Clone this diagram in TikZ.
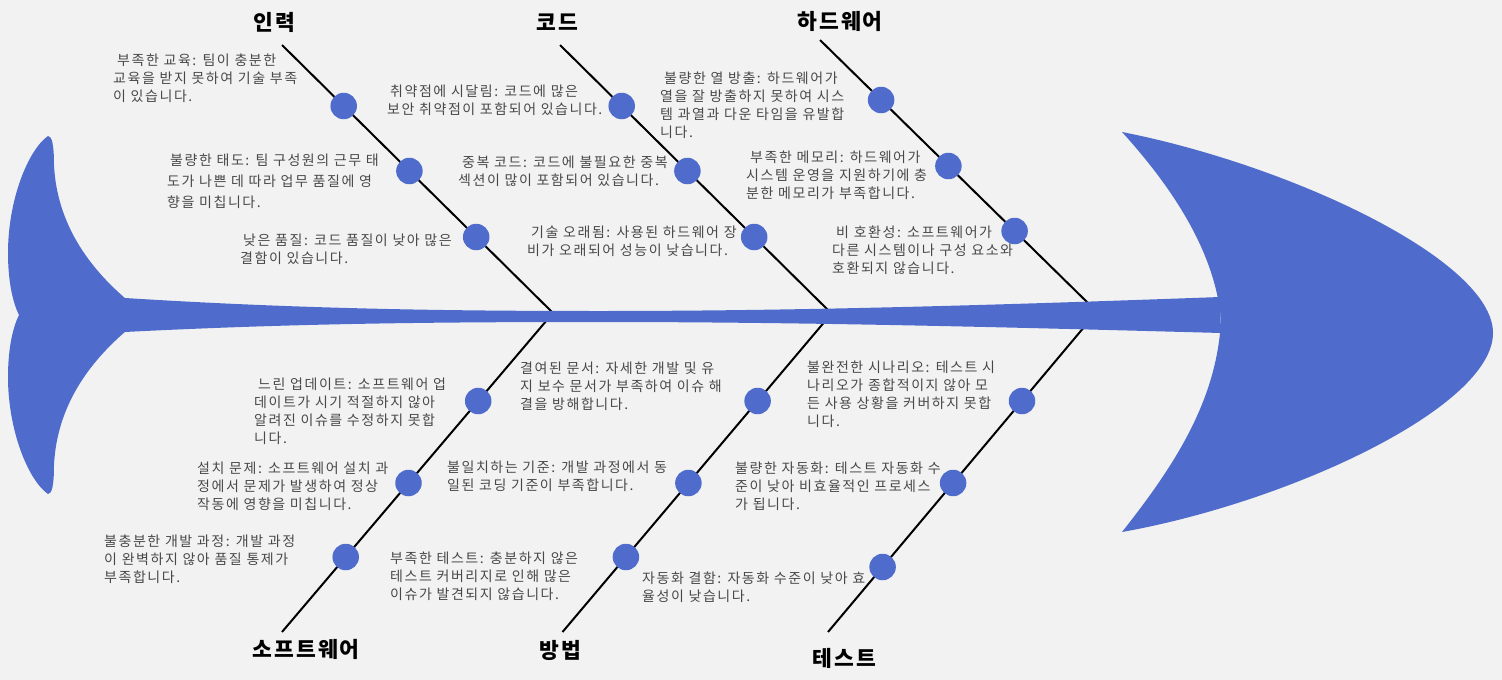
\documentclass[tikz,border=0pt]{standalone}
\usepackage{fontspec}
\newfontfamily\kr[LetterSpace=10]{Noto Sans CJK KR}
\newfontfamily\krt[LetterSpace=11]{Noto Sans CJK KR}
\definecolor{fishblue}{RGB}{79,108,204}
\definecolor{bgc}{RGB}{242,242,242}
\definecolor{txt}{RGB}{72,72,72}
\tikzset{
  bone/.style={line width=2pt, draw=black},
  dot/.style={circle, fill=fishblue, minimum size=26.5pt, inner sep=0pt},
  desc/.style={inner sep=0pt, anchor=north west, align=left, text=txt, font=\krt\fontsize{14}{18}\selectfont},
  descwide/.style={desc, font=\krt\fontsize{14}{21}\selectfont},
  cat/.style={inner sep=0pt, text=black, font=\kr\bfseries\fontsize{21.5}{24}\selectfont},
  fishpart/.style={fill=fishblue, draw=none}
}
\begin{document}
\begin{tikzpicture}[x=1pt,y=-1pt]
\fill[bgc] (0,0) rectangle (1502,680);
\useasboundingbox (0,0) rectangle (1502,680);

% bone end points
\coordinate (t1) at (282,45);   \coordinate (e1) at (552,312);
\coordinate (t2) at (560,45);   \coordinate (e2) at (830,312);
\coordinate (t3) at (820,40);   \coordinate (e3) at (1089,304);
\coordinate (b1) at (282,632);  \coordinate (f1) at (547,320);
\coordinate (b2) at (562.5,632);\coordinate (f2) at (825.2,321);
\coordinate (b3) at (828,632);  \coordinate (f3) at (1090,320);

\draw[bone] (t1) -- (e1);
\draw[bone] (t2) -- (e2);
\draw[bone] (t3) -- (e3);
\draw[bone] (b1) -- (f1);
\draw[bone] (b2) -- (f2);
\draw[bone] (b3) -- (f3);

% spine
\fill[fishpart] (125,298) .. controls (300,309) and (450,311) .. (600,311)
  .. controls (800,311) and (1000,305) .. (1220,297) -- (1221,333)
  .. controls (1000,327) and (800,322) .. (600,322)
  .. controls (450,322) and (300,323) .. (125,332) -- cycle;

% tail
\fill[fishpart] (126,299) .. controls (90,268) and (57,225) .. (54,165)
  .. controls (54,145) and (52,136) .. (48,136)
  .. controls (28,150) and (8,200) .. (8,253)
  .. controls (8,285) and (14,305) .. (19,315)
  .. controls (14,325) and (8,345) .. (8,377)
  .. controls (8,430) and (28,480) .. (48,494)
  .. controls (52,494) and (54,485) .. (54,465)
  .. controls (57,405) and (90,362) .. (126,331) -- cycle;

% head
\fill[fishpart] (1122,132) .. controls (1290,165) and (1493,260) .. (1493,333)
  .. controls (1493,407) and (1290,502) .. (1122,532)
  .. controls (1175,465) and (1217,400) .. (1221,320)
  .. controls (1215,250) and (1170,185) .. (1122,132) -- cycle;

% cause dots
\node[dot] (c11) at (343.7,106) {};
\node[dot] (c12) at (409.4,171) {};
\node[dot] (c13) at (476.2,237) {};
\node[dot] (c21) at (621.7,106) {};
\node[dot] (c22) at (687.4,171) {};
\node[dot] (c23) at (754.2,237) {};
\node[dot] (c31) at (881.1,100) {};
\node[dot] (c32) at (948.4,166) {};
\node[dot] (c33) at (1014.6,231) {};
\node[dot] (c41) at (478.2,401) {};
\node[dot] (c42) at (408.5,483) {};
\node[dot] (c43) at (345.7,557) {};
\node[dot] (c51) at (757.6,401) {};
\node[dot] (c52) at (688.4,483) {};
\node[dot] (c53) at (625.9,557) {};
\node[dot] (c61) at (1022,401) {};
\node[dot] (c62) at (953.1,483) {};
\node[dot] (c63) at (882.6,567) {};

% category labels
\node[cat] (k1) at (274,22) {인력};
\node[cat] (k2) at (557,22) {코드};
\node[cat] (k3) at (840,21) {하드웨어};
\node[cat] (k4) at (306,649) {소프트웨어};
\node[cat] (k5) at (560,650) {방법};
\node[cat] (k6) at (844,658) {테스트};

% descriptions
\node[desc] (d11) at (113,53.5) {\hspace*{4pt}부족한 교육: 팀이 충분한\\교육을 받지 못하여 기술 부족\\이 있습니다.};
\node[descwide] (d12) at (167,153.5) {\hspace*{3pt}불량한 태도: 팀 구성원의 근무 태\\도가 나쁜 데 따라 업무 품질에 영\\향을 미칩니다.};
\node[desc] (d13) at (240,233.5) {\hspace*{3pt}낮은 품질: 코드 품질이 낮아 많은\\결함이 있습니다.};
\node[desc] (d21) at (387,84.5) {\hspace*{3pt}취약점에 시달림: 코드에 많은\\보안 취약점이 포함되어 있습니다.};
\node[desc] (d22) at (458,155.5) {\hspace*{4pt}중복 코드: 코드에 불필요한 중복\\섹션이 많이 포함되어 있습니다.};
\node[desc] (d23) at (527,225.5) {\hspace*{4pt}기술 오래됨: 사용된 하드웨어 장\\비가 오래되어 성능이 낮습니다.};
\node[desc] (d31) at (660,71.5) {\hspace*{4pt}불량한 열 방출: 하드웨어가\\열을 잘 방출하지 못하여 시스\\템 과열과 다운 타임을 유발합\\니다.};
\node[desc] (d32) at (746,150.5) {\hspace*{4pt}부족한 메모리: 하드웨어가\\시스템 운영을 지원하기에 충\\분한 메모리가 부족합니다.};
\node[desc] (d33) at (832,225.5) {\hspace*{4pt}비 호환성: 소프트웨어가\\다른 시스템이나 구성 요소와\\호환되지 않습니다.};
\node[desc] (d41) at (254,377.5) {\hspace*{4pt}느린 업데이트: 소프트웨어 업\\데이트가 시기 적절하지 않아\\알려진 이슈를 수정하지 못합\\니다.};
\node[desc] (d42) at (197,461.5) {설치 문제: 소프트웨어 설치 과\\정에서 문제가 발생하여 정상\\작동에 영향을 미칩니다.};
\node[desc] (d43) at (104,534.5) {불충분한 개발 과정: 개발 과정\\이 완벽하지 않아 품질 통제가\\부족합니다.};
\node[desc] (d51) at (520,361.5) {결여된 문서: 자세한 개발 및 유\\지 보수 문서가 부족하여 이슈 해\\결을 방해합니다.};
\node[desc] (d52) at (447,460.5) {불일치하는 기준: 개발 과정에서 동\\일된 코딩 기준이 부족합니다.};
\node[desc] (d53) at (390,551.5) {부족한 테스트: 충분하지 않은\\테스트 커버리지로 인해 많은\\이슈가 발견되지 않습니다.};
\node[desc] (d61) at (807,360.5) {불완전한 시나리오: 테스트 시\\나리오가 종합적이지 않아 모\\든 사용 상황을 커버하지 못합\\니다.};
\node[desc] (d62) at (735,461.5) {불량한 자동화: 테스트 자동화 수\\준이 낮아 비효율적인 프로세스\\가 됩니다.};
\node[desc] (d63) at (642,571.5) {자동화 결함: 자동화 수준이 낮아 효\\율성이 낮습니다.};
\end{tikzpicture}
\end{document}
